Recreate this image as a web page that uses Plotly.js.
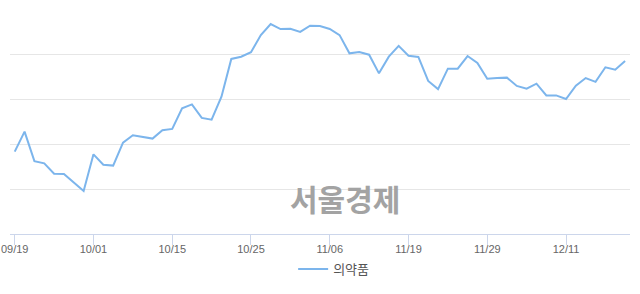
<!DOCTYPE html>
<html>
<head>
<meta charset="utf-8">
<script src="https://cdn.plot.ly/plotly-3.0.1.min.js"></script>
<style>html,body{margin:0;padding:0;background:#fff;}#chart{width:640px;height:294px;}</style>
</head>
<body>
<div id="chart"></div>
<script>
const dates = [
  '09/19','09/20','09/23','09/24','09/25','09/26','09/27','09/30',
  '10/01','10/02','10/04','10/07','10/08','10/10','10/11','10/14',
  '10/15','10/16','10/17','10/18','10/21','10/22','10/23','10/24',
  '10/25','10/28','10/29','10/30','10/31','11/01','11/04','11/05',
  '11/06','11/07','11/08','11/11','11/12','11/13','11/14','11/15',
  '11/19','11/20','11/21','11/22','11/25','11/26','11/27','11/28',
  '11/29','12/02','12/03','12/04','12/05','12/06','12/09','12/10',
  '12/11','12/12','12/13','12/16','12/17','12/18','12/19'
];
const values = [
  7966, 8055, 7924, 7914, 7868, 7867, 7829, 7791,
  7954, 7908, 7904, 8006, 8039, 8031, 8024, 8061,
  8067, 8159, 8176, 8116, 8108, 8210, 8378, 8388,
  8408, 8484, 8533, 8511, 8512, 8498, 8526, 8524,
  8511, 8484, 8403, 8409, 8397, 8314, 8388, 8436,
  8392, 8387, 8280, 8244, 8335, 8335, 8391, 8360,
  8290, 8293, 8295, 8258, 8246, 8268, 8216, 8216,
  8200, 8259, 8293, 8276, 8341, 8330, 8369
];
const tickLabels = ['09/19','10/01','10/15','10/25','11/06','11/19','11/29','12/11'];
const seriesName = '의약품';
const watermark = '서울경제';

const trace = {
  x: dates,
  y: values,
  type: 'scatter',
  mode: 'lines',
  name: seriesName,
  line: {color: '#7cb5ec', width: 2}
};

const layout = {
  width: 640,
  height: 294,
  margin: {l: 10, r: 10, t: 9, b: 60},
  paper_bgcolor: '#ffffff',
  plot_bgcolor: '#ffffff',
  showlegend: true,
  legend: {
    orientation: 'h',
    x: 0.522, xanchor: 'center',
    y: -0.156, yanchor: 'middle',
    font: {family: '"Noto Sans CJK KR", sans-serif', size: 13, color: '#555555'},
    itemwidth: 30
  },
  xaxis: {
    type: 'category',
    range: [-0.48, 62.5],
    tickmode: 'array',
    tickvals: tickLabels,
    ticktext: tickLabels,
    ticks: 'outside',
    ticklen: 10,
    tickcolor: '#ccd6eb',
    tickwidth: 1,
    ticklabelstandoff: -5,
    showline: true,
    linecolor: '#ccd6eb',
    linewidth: 1,
    showgrid: false,
    zeroline: false,
    tickfont: {family: '"Liberation Sans", Arial, sans-serif', size: 11, color: '#666666'},
    fixedrange: true
  },
  yaxis: {
    range: [7600, 8600],
    dtick: 200,
    tick0: 7600,
    showticklabels: false,
    ticks: '',
    showgrid: true,
    gridcolor: '#e6e6e6',
    gridwidth: 1,
    zeroline: false,
    showline: false,
    fixedrange: true
  },
  annotations: [{
    text: '<b>' + watermark + '</b>',
    xref: 'paper', yref: 'paper',
    x: 0.541, y: 0.16,
    xanchor: 'center', yanchor: 'middle',
    showarrow: false,
    font: {family: '"Noto Sans CJK KR", sans-serif', size: 30, color: '#a3a3a3'}
  }]
};

Plotly.newPlot('chart', [trace], layout, {displayModeBar: false, staticPlot: true});
</script>
</body>
</html>
